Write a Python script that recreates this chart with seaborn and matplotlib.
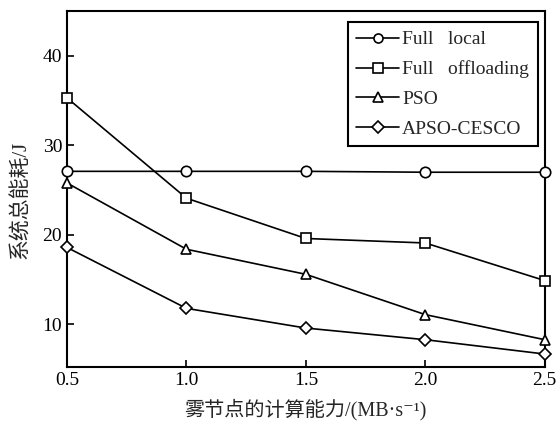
import matplotlib
matplotlib.use("Agg")
import matplotlib.pyplot as plt
import seaborn as sns
import pandas as pd

# Computing capacity of fog node (MB/s)
capacity = [0.5, 1.0, 1.5, 2.0, 2.5]
full_local = [27.1, 27.1, 27.1, 27.0, 27.0]
full_offloading = [35.3, 24.1, 19.6, 19.1, 14.9]
pso = [25.8, 18.4, 15.6, 11.1, 8.3]
apso_cesco = [18.6, 11.8, 9.6, 8.3, 6.7]

series_names = ["Full   local", "Full   offloading", "PSO", "APSO-CESCO"]
series_values = [full_local, full_offloading, pso, apso_cesco]
marker_shapes = ["o", "s", "^", "D"]

frames = []
for name, vals in zip(series_names, series_values):
    frames.append(pd.DataFrame({"x": capacity, "y": vals, "method": name}))
df = pd.concat(frames, ignore_index=True)

sns.set_theme(style="ticks")
plt.rcParams["font.family"] = ["Liberation Serif", "Noto Sans CJK SC", "DejaVu Sans"]

fig = plt.figure(figsize=(5.57, 4.24), dpi=100)
ax = fig.add_axes([0.1203, 0.1344, 0.8577, 0.8396])

sns.lineplot(
    data=df, x="x", y="y", hue="method", style="method",
    hue_order=series_names, style_order=series_names,
    palette=["black"] * 4,
    markers=dict(zip(series_names, marker_shapes)),
    dashes=False, ax=ax, linewidth=1.2, markersize=7.5,
    markerfacecolor="white", markeredgecolor="black", markeredgewidth=1.2,
)

for ln in ax.lines:
    ln.set_clip_on(False)
    ln.set_zorder(5)
    if ln.get_marker() == "D":
        ln.set_markersize(6.5)

ax.set_xlim(0.5, 2.5)
ax.set_ylim(5.25, 45)
ax.set_xticks(capacity)
ax.set_xticklabels([f"{c:.1f}" for c in capacity])
ax.set_yticks([10, 20, 30, 40])

for s in ax.spines.values():
    s.set_linewidth(1.5)
    s.set_color("black")
ax.tick_params(direction="in", length=5, width=1.2, labelsize=14,
               colors="black", top=False, right=False)

label_font = ["Liberation Serif", "Noto Sans CJK SC", "DejaVu Sans"]
ax.set_xlabel("雾节点的计算能力/(MB·s⁻¹)", family=label_font,
              fontsize=14.5, labelpad=7)
ax.set_ylabel("系统总能耗/J", family=label_font, fontsize=15, labelpad=5)
ax.yaxis.set_label_coords(-0.075, 0.47)

handles, labels = ax.get_legend_handles_labels()
for h in handles:
    h.set_markerfacecolor("white")
    h.set_markeredgecolor("black")
    h.set_color("black")
    h.set_markersize(6.5)
leg = ax.legend(handles, labels, loc="upper right", fontsize=14, frameon=True,
                fancybox=False, edgecolor="black", framealpha=1,
                handlelength=2.2, handletextpad=0.15, borderpad=0.45,
                borderaxespad=0.0, labelspacing=0.62,
                bbox_to_anchor=(0.985, 0.969))
leg.get_frame().set_linewidth(1.5)

fig.savefig("out.png", dpi=100)
